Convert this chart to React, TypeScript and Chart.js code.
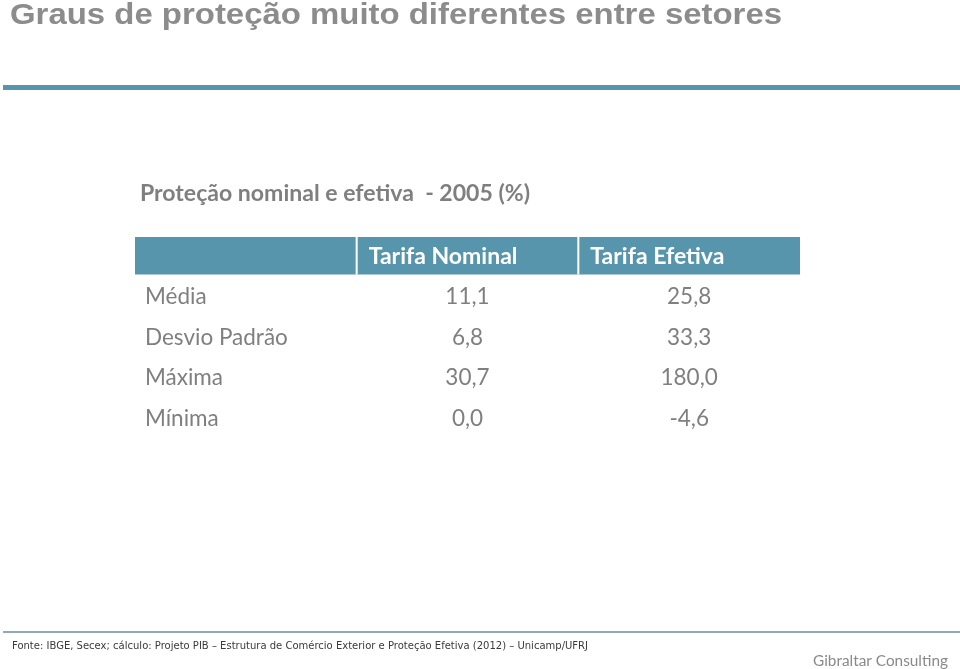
import React, { useEffect, useRef } from "react";
import { Chart, registerables } from "chart.js";

Chart.register(...registerables);

const pageTitle = "Graus de proteção muito diferentes entre setores";
const tableTitle = "Proteção nominal e efetiva  - 2005 (%)";
const columnHeaders = ["", "Tarifa Nominal", "Tarifa Efetiva"];
const rowLabels = ["Média", "Desvio Padrão", "Máxima", "Mínima"];
const tarifaNominal = [11.1, 6.8, 30.7, 0.0];
const tarifaEfetiva = [25.8, 33.3, 180.0, -4.6];
const sourceNote =
  "Fonte: IBGE, Secex; cálculo: Projeto PIB – Estrutura de Comércio Exterior e Proteção Efetiva (2012) – Unicamp/UFRJ";
const brand = "Gibraltar Consulting";

const fmt = (v: number) => v.toFixed(1).replace(".", ",");

const BLUE = "#5795ad";
const GRAY = "#7f7f7f";

function fitText(ctx: CanvasRenderingContext2D, text: string, x: number, y: number, width: number) {
  const w = ctx.measureText(text).width;
  ctx.save();
  ctx.translate(x, y);
  ctx.scale(width / w, 1);
  ctx.fillText(text, 0, 0);
  ctx.restore();
}

const tablePlugin = {
  id: "tablePlugin",
  afterDraw(chart: any) {
    const ctx = chart.ctx as CanvasRenderingContext2D;
    const xs = chart.scales.x;
    const ys = chart.scales.y;
    ctx.save();

    // page title
    ctx.fillStyle = "#8c8c8c";
    ctx.font = "bold 30px 'Liberation Sans', Arial, sans-serif";
    ctx.textAlign = "left";
    ctx.textBaseline = "alphabetic";
    fitText(ctx, pageTitle, 10, 24, 772);

    // top rule
    ctx.fillStyle = BLUE;
    ctx.fillRect(3, 85, 957, 5);

    // table title
    ctx.fillStyle = GRAY;
    ctx.font = "bold 23px Lato, 'Open Sans', sans-serif";
    ctx.textBaseline = "middle";
    fitText(ctx, tableTitle, 140, 194, 390);

    // header band
    const hTop = ys.getPixelForValue(0) + 2;
    const hBot = ys.getPixelForValue(1) - 1;
    const x0 = xs.getPixelForValue(0);
    const x3 = xs.getPixelForValue(3);
    ctx.fillStyle = BLUE;
    ctx.fillRect(x0, hTop, x3 - x0, hBot - hTop);
    ctx.fillStyle = "#ffffff";
    for (let c = 1; c < 3; c++) {
      const xp = xs.getPixelForValue(c);
      ctx.fillRect(xp - 1, hTop, 2, hBot - hTop);
    }
    ctx.font = "bold 23px Lato, 'Open Sans', sans-serif";
    ctx.textAlign = "left";
    const hMid = (hTop + hBot) / 2;
    columnHeaders.forEach((h, c) => {
      if (!h) return;
      ctx.fillText(h, xs.getPixelForValue(c) + 12, hMid + 1);
    });

    // rows
    ctx.fillStyle = GRAY;
    ctx.font = "22.5px Lato, 'Open Sans', sans-serif";
    rowLabels.forEach((lab, r) => {
      const yc = ys.getPixelForValue(r + 1.5) + 1;
      ctx.textAlign = "left";
      ctx.fillText(lab, xs.getPixelForValue(0) + 10, yc);
      ctx.textAlign = "center";
      ctx.fillText(fmt(tarifaNominal[r]), xs.getPixelForValue(1.5), yc);
      ctx.fillText(fmt(tarifaEfetiva[r]), xs.getPixelForValue(2.5), yc);
    });

    // footer rule
    ctx.fillStyle = "#8fa9b6";
    ctx.fillRect(3, 631, 957, 2);

    // source
    ctx.fillStyle = "#3a3a3a";
    ctx.font = "10px 'DejaVu Sans', Verdana, sans-serif";
    ctx.textAlign = "left";
    fitText(ctx, sourceNote, 12, 646, 576);

    // brand
    ctx.fillStyle = "#8a8a8a";
    ctx.font = "15.5px Lato, 'Open Sans', sans-serif";
    ctx.textAlign = "left";
    fitText(ctx, brand, 813, 661, 135);

    ctx.restore();
  },
};

export default function App() {
  const ref = useRef<HTMLCanvasElement | null>(null);
  useEffect(() => {
    if (!ref.current) return;
    const chart = new Chart(ref.current, {
      type: "scatter",
      data: { datasets: [] },
      options: {
        animation: false,
        responsive: false,
        devicePixelRatio: 1,
        layout: { padding: { left: 135, right: 160, top: 235, bottom: 231.5 } },
        plugins: { legend: { display: false }, tooltip: { enabled: false } },
        scales: {
          x: { type: "linear", min: 0, max: 3, display: false },
          y: { type: "linear", min: 0, max: 5, reverse: true, display: false },
        },
      },
      plugins: [tablePlugin],
    });
    return () => chart.destroy();
  }, []);
  return (
    <div style={{ position: "absolute", left: 0, top: 0, width: 960, height: 669, background: "#fff" }}>
      <canvas ref={ref} width={960} height={669} style={{ display: "block", width: 960, height: 669 }} />
    </div>
  );
}
